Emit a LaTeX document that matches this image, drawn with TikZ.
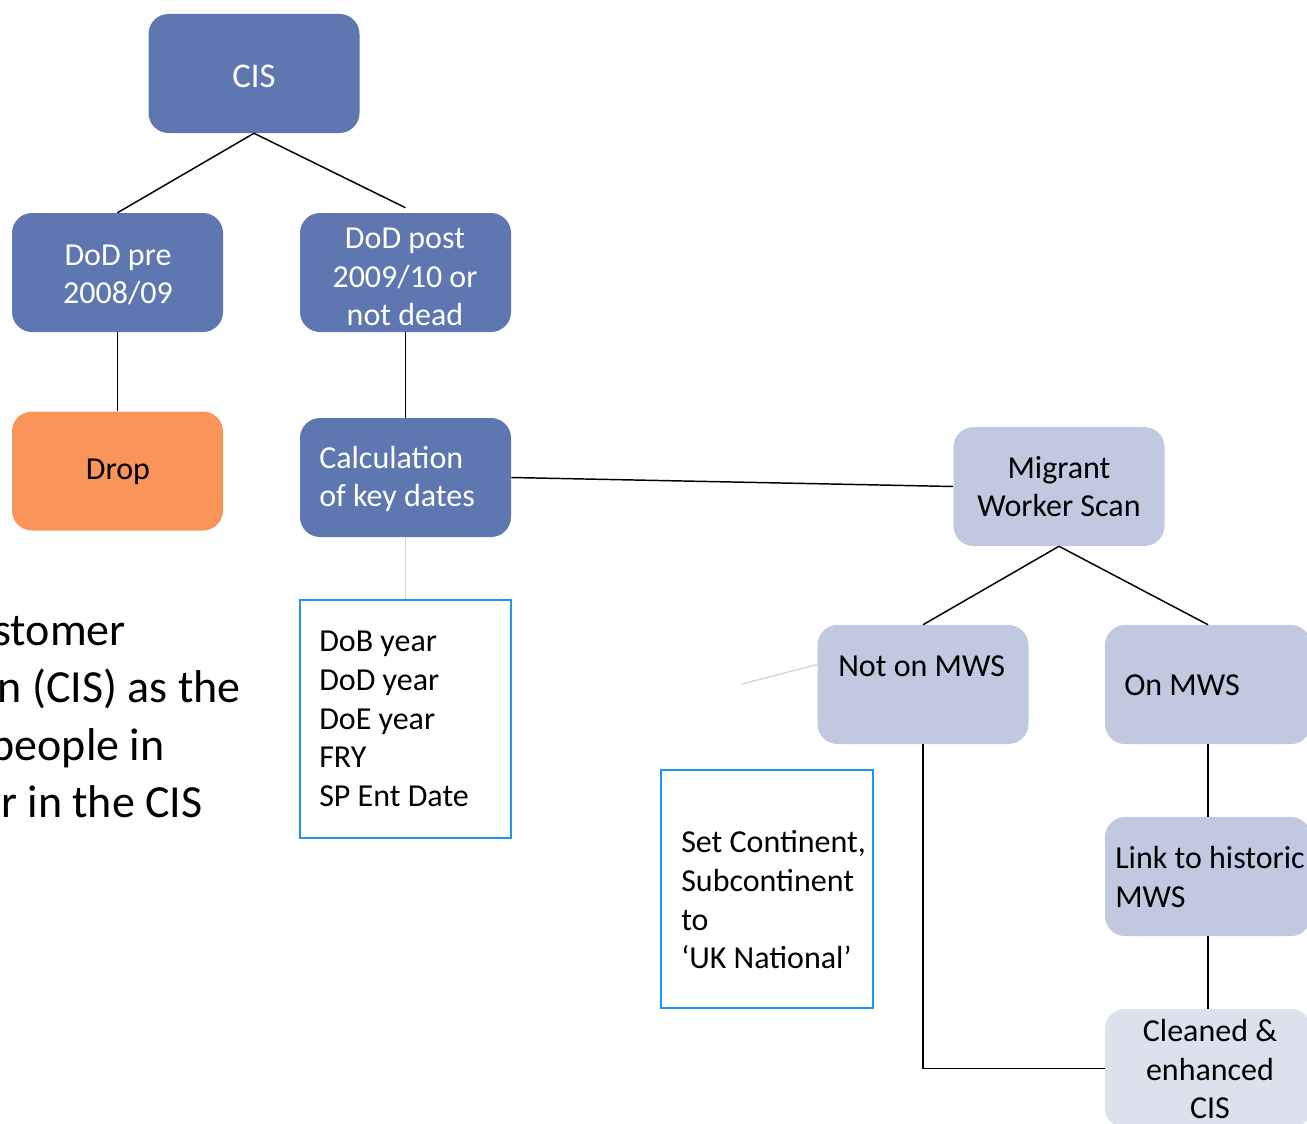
\documentclass[tikz,border=0pt]{standalone}
\usepackage{fontspec}
\setmainfont{Carlito}
\definecolor{dkblue}{HTML}{5F77B0}
\definecolor{ltblue}{HTML}{C1C9E1}
\definecolor{pale}{HTML}{DDE1EE}
\definecolor{orng}{HTML}{F9955B}
\definecolor{bord}{HTML}{2092F8}
\definecolor{faint}{HTML}{D3D7E6}
\newcommand{\boxfont}{\fontsize{24pt}{29pt}\selectfont}
\newcommand{\bigfont}{\fontsize{34.5pt}{43pt}\selectfont}
\begin{document}
\begin{tikzpicture}[x=0.75pt,y=-0.75pt,
  box/.style={rounded corners=15pt, minimum width=158.25pt, minimum height=89.25pt,
    inner sep=0pt},
  dark/.style={box, fill=dkblue},
  light/.style={box, fill=ltblue},
  frame/.style={draw=bord, line width=1.5pt, fill=white, inner sep=0pt,
    minimum width=158.25pt, minimum height=178.5pt},
  txt/.style={font=\boxfont, align=left, inner sep=0pt},
  ctxt/.style={font=\boxfont, align=center, inner sep=0pt},
  wtxt/.style={ctxt, text=white},
  bigtxt/.style={font=\bigfont, inner sep=0pt, anchor=base east},
  conn/.style={line width=1.1pt, black},
  soft/.style={line width=1.1pt, faint}]
\useasboundingbox (0,0) rectangle (1307,1124);
\clip (0,0) rectangle (1307,1124);

% boxes
\node[dark] (cis) at (254,73.5) {};
\node[dark] (dodpre) at (117.5,272.5) {};
\node[dark] (dodpost) at (405.5,272.5) {};
\node[box, fill=orng] (drop) at (117.5,471) {};
\node[dark] (calc) at (405.5,477.5) {};
\node[light] (mws) at (1059,486.5) {};
\node[light] (noton) at (923,684.5) {};
\node[light, minimum width=154.5pt] (onmws) at (1208,684.5) {};
\node[light, minimum width=154.5pt] (link) at (1208,876.5) {};
\node[box, fill=pale, minimum width=154.5pt] (cleaned) at (1208,1068.5) {};
\node[frame] (dates) at (405.5,719) {};
\node[frame, minimum width=159pt] (cont) at (767,889) {};

% box texts
\node[wtxt, font=\fontsize{26pt}{30pt}\selectfont] (cistxt) at (254,76) {CIS};
\node[wtxt] (dodpretxt) at (118,275) {DoD pre\\2008/09};
\node[wtxt] (dodposttxt) at (405,277) {DoD post\\2009/10 or\\not dead};
\node[ctxt] (droptxt) at (118,472) {Drop};
\node[txt, text=white, anchor=west] (calctxt) at (319,479) {Calculation\\of key dates};
\node[ctxt] (mwstxt) at (1059,486.5) {Migrant\\Worker Scan};
\node[txt, anchor=west] (notontxt) at (838,666) {Not on MWS};
\node[txt, anchor=west] (ontxt) at (1124,685) {On MWS};
\node[txt, anchor=west] (linktxt) at (1115,877) {Link to historic\\MWS};
\node[ctxt] (cleanedtxt) at (1210,1069) {Cleaned \&\\enhanced\\CIS};
\node[txt, anchor=west] (datestxt) at (319,719) {DoB year\\DoD year\\DoE year\\FRY\\SP Ent Date};
\node[txt, anchor=west] (conttxt) at (681,900) {Set Continent,\\Subcontinent\\to\\‘UK National’};

% left clipped text
\node[bigtxt] (l1) at (126,645) {stomer};
\node[bigtxt] (l2) at (241,702) {n (CIS) as the};
\node[bigtxt] (l3) at (165,760) {people in};
\node[bigtxt] (l4) at (203,817) {r in the CIS};

% connectors
\draw[conn] (cis.south) -- (dodpre.north);
\draw[conn] (cis.south) -- ([yshift=3.75pt]dodpost.north);
\draw[conn] (dodpre.south) -- (drop.north);
\draw[conn] (dodpost.south) -- (calc.north);
\draw[conn] (calc.east) -- (mws.west);
\draw[soft] (calc.south) -- (dates.north);
\draw[conn] (mws.south) -- (noton.north);
\draw[conn] (mws.south) -- (onmws.north);
\coordinate (free) at (742,684);
\draw[soft] ([yshift=15pt]noton.west) -- (free);
\draw[conn] (noton.south) |- (cleaned.west);
\draw[conn] (onmws.south) -- (link.north);
\draw[conn] (link.south) -- (cleaned.north);
\end{tikzpicture}
\end{document}
